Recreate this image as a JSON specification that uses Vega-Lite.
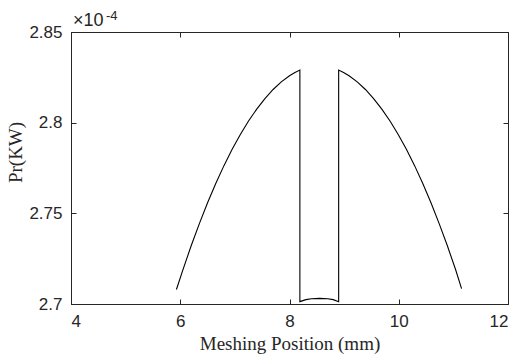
{
  "$schema": "https://vega.github.io/schema/vega-lite/v6.json",
  "autosize": "none",
  "padding": {"left": 71, "top": 32, "right": 12, "bottom": 55},
  "width": 437,
  "height": 272,
  "background": "white",
  "config": {
    "view": {"stroke": "#262626", "strokeWidth": 1},
    "axis": {"grid": false, "domainColor": "#262626", "tickColor": "#262626", "labelColor": "#262626", "labelFont": "Liberation Sans", "labelFontSize": 17, "tickSize": -5, "titleFont": "Liberation Serif", "titleFontWeight": "normal", "titleColor": "#262626", "titleFontSize": 19}
  },
  "data": {"values": [
    {"i": 1, "x": 5.93, "y": 2.7080},
    {"i": 2, "x": 6.05, "y": 2.7190},
    {"i": 3, "x": 6.2, "y": 2.7321},
    {"i": 4, "x": 6.35, "y": 2.7443},
    {"i": 5, "x": 6.5, "y": 2.7558},
    {"i": 6, "x": 6.65, "y": 2.7664},
    {"i": 7, "x": 6.8, "y": 2.7763},
    {"i": 8, "x": 6.95, "y": 2.7853},
    {"i": 9, "x": 7.1, "y": 2.7935},
    {"i": 10, "x": 7.25, "y": 2.8009},
    {"i": 11, "x": 7.4, "y": 2.8075},
    {"i": 12, "x": 7.55, "y": 2.8133},
    {"i": 13, "x": 7.7, "y": 2.8183},
    {"i": 14, "x": 7.85, "y": 2.8225},
    {"i": 15, "x": 8.0, "y": 2.8259},
    {"i": 16, "x": 8.1, "y": 2.8277},
    {"i": 17, "x": 8.19, "y": 2.8290},
    {"i": 18, "x": 8.19, "y": 2.7013},
    {"i": 19, "x": 8.3, "y": 2.7024},
    {"i": 20, "x": 8.4, "y": 2.7029},
    {"i": 21, "x": 8.55, "y": 2.7031},
    {"i": 22, "x": 8.7, "y": 2.7029},
    {"i": 23, "x": 8.8, "y": 2.7024},
    {"i": 24, "x": 8.9, "y": 2.7013},
    {"i": 25, "x": 8.9, "y": 2.8290},
    {"i": 26, "x": 8.99, "y": 2.8277},
    {"i": 27, "x": 9.09, "y": 2.8259},
    {"i": 28, "x": 9.24, "y": 2.8225},
    {"i": 29, "x": 9.39, "y": 2.8183},
    {"i": 30, "x": 9.54, "y": 2.8133},
    {"i": 31, "x": 9.69, "y": 2.8075},
    {"i": 32, "x": 9.84, "y": 2.8009},
    {"i": 33, "x": 9.99, "y": 2.7935},
    {"i": 34, "x": 10.14, "y": 2.7853},
    {"i": 35, "x": 10.29, "y": 2.7763},
    {"i": 36, "x": 10.44, "y": 2.7664},
    {"i": 37, "x": 10.59, "y": 2.7558},
    {"i": 38, "x": 10.74, "y": 2.7443},
    {"i": 39, "x": 10.89, "y": 2.7321},
    {"i": 40, "x": 11.04, "y": 2.7190},
    {"i": 41, "x": 11.15, "y": 2.7085}
  ]},
  "layer": [
    {
      "mark": {"type": "line", "color": "black", "strokeWidth": 1.1},
      "encoding": {
        "x": {"field": "x", "type": "quantitative", "scale": {"domain": [4, 12], "nice": false, "zero": false}, "axis": {"values": [4, 6, 8, 10, 12], "title": "Meshing Position (mm)", "labelPadding": 14, "titlePadding": 5}},
        "y": {"field": "y", "type": "quantitative", "scale": {"domain": [2.7, 2.85], "nice": false, "zero": false}, "axis": {"values": [2.7, 2.75, 2.8, 2.85], "format": "~g", "title": "Pr(KW)", "labelPadding": 14, "titleX": -46, "titleY": 120}},
        "order": {"field": "i", "type": "quantitative"}
      }
    },
    {
      "mark": {"type": "line", "opacity": 0},
      "encoding": {
        "x": {"field": "x", "type": "quantitative", "axis": {"orient": "top", "values": [4, 6, 8, 10, 12], "labels": false, "title": null}},
        "y": {"field": "y", "type": "quantitative", "axis": {"orient": "right", "values": [2.7, 2.75, 2.8, 2.85], "labels": false, "title": null}}
      }
    },
    {
      "data": {"values": [{"t": "×10"}]},
      "mark": {"type": "text", "align": "left", "baseline": "alphabetic", "dx": 2, "dy": -6, "font": "Liberation Sans", "fontSize": 18, "color": "#262626"},
      "encoding": {
        "text": {"field": "t"},
        "x": {"datum": 4, "type": "quantitative", "axis": null},
        "y": {"datum": 2.85, "type": "quantitative", "axis": null}
      }
    },
    {
      "data": {"values": [{"t": "-4"}]},
      "mark": {"type": "text", "align": "left", "baseline": "alphabetic", "dx": 35, "dy": -12, "font": "Liberation Sans", "fontSize": 13, "color": "#262626"},
      "encoding": {
        "text": {"field": "t"},
        "x": {"datum": 4, "type": "quantitative", "axis": null},
        "y": {"datum": 2.85, "type": "quantitative", "axis": null}
      }
    }
  ],
  "resolve": {"axis": {"x": "independent", "y": "independent"}}
}
